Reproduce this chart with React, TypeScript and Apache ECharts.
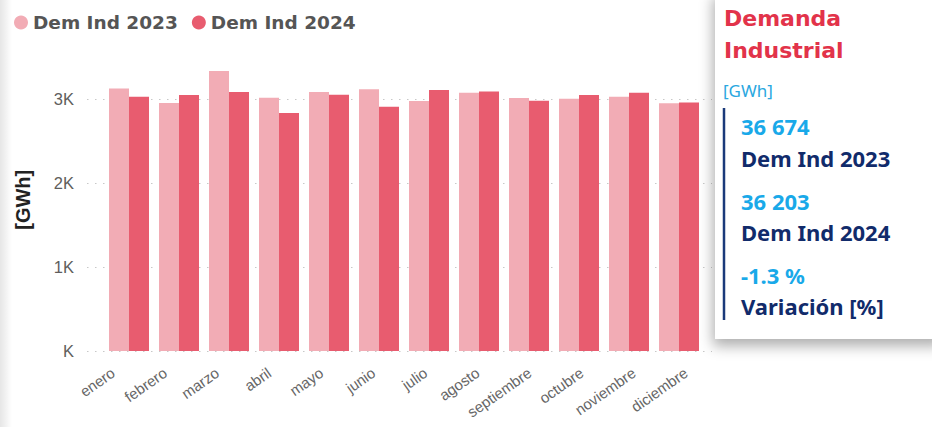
import React, { useEffect, useRef } from "react";
import * as echarts from "echarts";

const months = ["enero", "febrero", "marzo", "abril", "mayo", "junio", "julio", "agosto", "septiembre", "octubre", "noviembre", "diciembre"];
const dem2023 = [3126, 2953, 3334, 3016, 3084, 3115, 2976, 3075, 3012, 3004, 3028, 2949];
const dem2024 = [3027, 3047, 3083, 2832, 3051, 2908, 3106, 3090, 2979, 3047, 3074, 2959];
const seriesNames = ["Dem Ind 2023", "Dem Ind 2024"];
const yMax = 3600;
const yInterval = 1000;
const cardTitle = ["Demanda", "Industrial"];
const cardUnit = "[GWh]";
const kpiValues = ["36 674", "36 203", "-1.3 %"];
const kpiLabels = ["Dem Ind 2023", "Dem Ind 2024", "Variación [%]"];

const C23 = "#F2ACB5";
const C24 = "#E85C6F";

export default function App() {
  const ref = useRef<HTMLDivElement>(null);
  useEffect(() => {
    document.body.style.margin = "0";
    const chart = echarts.init(ref.current!, null, { renderer: "svg" });
    const top = 48.6;
    const bottom = 76;
    const kpiY = [[126, 157.5], [201, 232], [274.5, 306]];
    const graphics: any[] = [
      {
        type: "rect",
        left: 0,
        top: 0,
        shape: { width: 12, height: 427 },
        style: {
          fill: new echarts.graphic.LinearGradient(0, 0, 1, 0, [
            { offset: 0, color: "rgba(0,0,0,0.10)" },
            { offset: 1, color: "rgba(0,0,0,0)" },
          ]),
        },
        silent: true,
      },
      {
        type: "rect",
        shape: { x: 715, y: -10, width: 230, height: 349 },
        style: { fill: "#fff", shadowBlur: 14, shadowColor: "rgba(0,0,0,0.32)", shadowOffsetY: 7, shadowOffsetX: -2 },
        z: 10,
      },
      {
        type: "text",
        x: 724,
        y: 18,
        z: 11,
        style: { text: cardTitle[0], fill: "#E2334A", font: "bold 22px 'DejaVu Sans'", verticalAlign: "middle" },
      },
      {
        type: "text",
        x: 724,
        y: 50,
        z: 11,
        style: { text: cardTitle[1], fill: "#E2334A", font: "bold 22px 'DejaVu Sans'", verticalAlign: "middle" },
      },
      {
        type: "text",
        x: 723,
        y: 90,
        z: 11,
        style: { text: cardUnit, fill: "#2AA7E0", font: "17px 'Noto Sans'", verticalAlign: "middle" },
      },
      {
        type: "line",
        z: 11,
        shape: { x1: 724, y1: 108, x2: 724, y2: 320 },
        style: { stroke: "#1B3A7A", lineWidth: 2.5 },
      },
    ];
    kpiValues.forEach((v, i) => {
      graphics.push({
        type: "text",
        x: 741,
        y: kpiY[i][0],
        z: 11,
        style: { text: v, fill: "#19A9E9", font: "bold 22px 'Noto Sans'", verticalAlign: "middle" },
      });
      graphics.push({
        type: "text",
        x: 741,
        y: kpiY[i][1],
        z: 11,
        style: { text: kpiLabels[i], fill: "#112B6B", font: "bold 22px 'Noto Sans'", verticalAlign: "middle" },
      });
    });

    chart.setOption({
      animation: false,
      backgroundColor: "#fff",
      legend: {
        data: seriesNames,
        left: 9,
        top: 8,
        icon: "circle",
        itemWidth: 14,
        itemHeight: 14,
        itemGap: 14,
        textStyle: { fontFamily: "DejaVu Sans", fontWeight: "bold", fontSize: 18.5, color: "#555" },
      },
      grid: [
        { left: 87, right: 932 - 712, top, bottom },
        { left: 104, right: 932 - 704, top, bottom },
      ],
      xAxis: [
        {
          type: "category",
          gridIndex: 0,
          data: months,
          axisLine: { show: false },
          axisTick: { show: false },
          axisLabel: {
            rotate: 35,
            margin: 20,
            interval: 0,
            color: "#666",
            fontSize: 15,
            fontFamily: "Liberation Sans",
          },
        },
        { type: "category", gridIndex: 1, data: months, show: false },
      ],
      yAxis: [
        {
          type: "value",
          gridIndex: 0,
          min: 0,
          max: yMax,
          interval: yInterval,
          name: "[GWh]",
          nameLocation: "middle",
          nameRotate: 90,
          nameGap: 54,
          nameTextStyle: { fontFamily: "Liberation Sans", fontWeight: "bold", fontSize: 20, color: "#222" },
          axisLine: { show: false },
          axisTick: { show: false },
          axisLabel: {
            showMaxLabel: false,
            margin: 13,
            color: "#605E5C",
            fontSize: 16.5,
            fontFamily: "Liberation Sans",
            formatter: (v: number) => (v === 0 ? "K" : v / 1000 + "K"),
          },
          splitLine: { show: true, showMaxLine: false, lineStyle: { color: "#C8C8C8", type: [1.5, 6.5], width: 1.2 } },
        },
        { type: "value", gridIndex: 1, min: 0, max: yMax, interval: yInterval, show: false, splitLine: { show: false } },
      ],
      series: [
        {
          name: seriesNames[0],
          type: "bar",
          xAxisIndex: 1,
          yAxisIndex: 1,
          data: dem2023,
          barWidth: 20,
          barGap: "0%",
          itemStyle: { color: C23 },
        },
        {
          name: seriesNames[1],
          type: "bar",
          xAxisIndex: 1,
          yAxisIndex: 1,
          data: dem2024,
          barWidth: 20,
          barGap: "0%",
          itemStyle: { color: C24 },
        },
      ],
      graphic: graphics,
    });
    return () => chart.dispose();
  }, []);
  return <div ref={ref} style={{ width: 932, height: 427, position: "absolute", left: 0, top: 0 }} />;
}
